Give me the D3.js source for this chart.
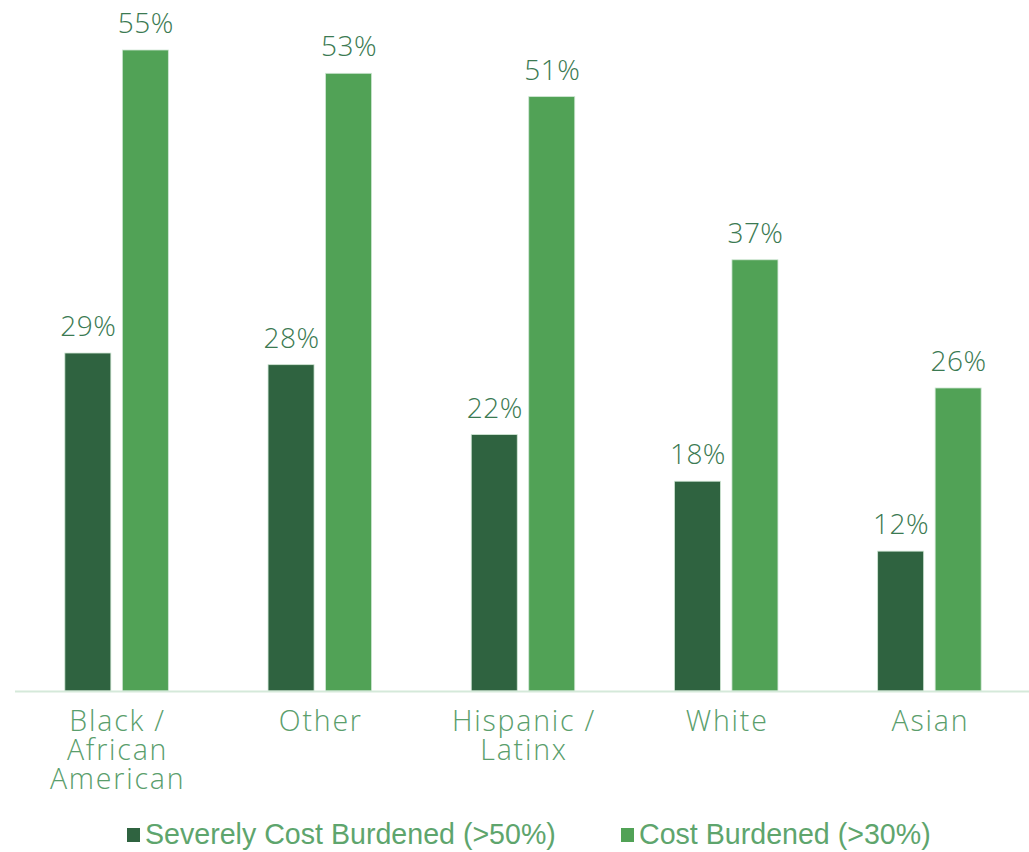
<!DOCTYPE html>
<html>
<head>
<meta charset="utf-8">
<script src="https://cdn.jsdelivr.net/npm/d3@7"></script>
<style>
  html, body { margin: 0; padding: 0; background: #ffffff; }
  svg { display: block; }
</style>
</head>
<body>
<svg id="chart" width="1029" height="852"></svg>
<script>
// Housing cost burden by race / ethnicity (share of households)
const categories = ["Black / African American", "Other", "Hispanic / Latinx", "White", "Asian"];
const categoryLines = [["Black /", "African", "American"], ["Other"], ["Hispanic /", "Latinx"], ["White"], ["Asian"]];
const seriesNames = ["Severely Cost Burdened (>50%)", "Cost Burdened (>30%)"];
const severelyBurdened = [29, 28, 22, 18, 12];
const costBurdened = [55, 53, 51, 37, 26];
const seriesColors = ["#2f6340", "#51a256"];

const seriesValues = [severelyBurdened, costBurdened];

const svg = d3.select("#chart");

const baseY = 691;
const x0 = d3.scaleBand().domain(categories).range([15, 1031]).padding(0);
const x1 = d3.scaleBand().domain(seriesNames).range([0, x0.bandwidth()])
  .paddingInner(0.2).paddingOuter(0.867);
const y = d3.scaleLinear().domain([0, 55]).range([baseY, 50]);

const labelFont = "'Open Sans', 'Noto Sans', sans-serif";

// Bars
const groups = svg.append("g").selectAll("g")
  .data(categories)
  .join("g")
  .attr("transform", d => `translate(${x0(d)},0)`);

groups.selectAll("rect")
  .data((d, i) => seriesNames.map((s, j) => ({ series: s, value: seriesValues[j][i], j })))
  .join("rect")
  .attr("x", d => x1(d.series))
  .attr("y", d => y(d.value))
  .attr("width", x1.bandwidth())
  .attr("height", d => baseY - y(d.value))
  .attr("fill", d => seriesColors[d.j])
  .attr("stroke", "#cfe6d4")
  .attr("stroke-width", 0.8);

// Value labels above bars
groups.selectAll("text.value")
  .data((d, i) => seriesNames.map((s, j) => ({ series: s, value: seriesValues[j][i] })))
  .join("text")
  .attr("class", "value")
  .attr("x", d => x1(d.series) + x1.bandwidth() / 2 + 0.5)
  .attr("y", d => y(d.value) - 17)
  .attr("text-anchor", "middle")
  .attr("font-family", labelFont)
  .attr("font-weight", 300)
  .attr("font-size", 28)
  .attr("letter-spacing", 0.5)
  .attr("fill", "#3b7a52")
  .text(d => d.value + "%");

// Baseline
svg.append("line")
  .attr("x1", 15).attr("x2", 1029)
  .attr("y1", baseY + 0.5).attr("y2", baseY + 0.5)
  .attr("stroke", "#d5e9da")
  .attr("stroke-width", 2);

// Category labels (one tspan per line)
const catLabels = svg.append("g").selectAll("text")
  .data(categories)
  .join("text")
  .attr("text-anchor", "middle")
  .attr("font-family", labelFont)
  .attr("font-weight", 300)
  .attr("font-size", 28.5)
  .attr("letter-spacing", 1.8)
  .attr("fill", "#5a9e6c");

catLabels.each(function (d, i) {
  const t = d3.select(this);
  const cx = x0(d) + x0.bandwidth() / 2 + 1;
  categoryLines[i].forEach((line, k) => {
    t.append("tspan")
      .attr("x", cx)
      .attr("y", 731 + k * 29)
      .text(line);
  });
});

// Legend
const legendItems = [
  { name: seriesNames[0], color: seriesColors[0], x: 127 },
  { name: seriesNames[1], color: seriesColors[1], x: 621 }
];
const legend = svg.append("g").selectAll("g")
  .data(legendItems)
  .join("g")
  .attr("transform", d => `translate(${d.x},0)`);

legend.append("rect")
  .attr("x", 0).attr("y", 828)
  .attr("width", 13).attr("height", 14)
  .attr("fill", d => d.color);

legend.append("text")
  .attr("x", 18).attr("y", 844)
  .attr("font-family", "'Liberation Sans', Arial, sans-serif")
  .attr("font-size", 28.6)
  .attr("fill", "#5ea56d")
  .text(d => d.name);
</script>
</body>
</html>
